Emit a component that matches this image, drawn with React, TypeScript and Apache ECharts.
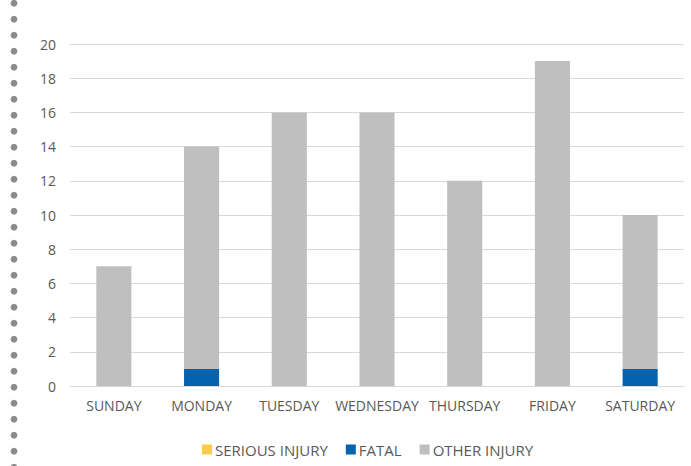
import React, { useEffect, useRef } from "react";
import * as echarts from "echarts";

const categories = ["SUNDAY", "MONDAY", "TUESDAY", "WEDNESDAY", "THURSDAY", "FRIDAY", "SATURDAY"];
const seriousInjury = [0, 0, 0, 0, 0, 0, 0];
const fatal = [0, 1, 0, 0, 0, 0, 1];
const otherInjury = [7, 13, 16, 16, 12, 19, 9];
const seriesNames = ["SERIOUS INJURY", "FATAL", "OTHER INJURY"];

const FONT = "'Open Sans', 'Noto Sans', sans-serif";

export default function App() {
  const ref = useRef<HTMLDivElement>(null);
  useEffect(() => {
    if (!ref.current) return;
    const chart = echarts.init(ref.current, null, { renderer: "svg" });
    const dots: any[] = [];
    for (let k = 0; k < 30; k++) {
      dots.push({
        type: "circle",
        shape: { cx: 14, cy: 3.3 + 16 * k, r: 3.4 },
        style: { fill: "#8c8c8c" },
        silent: true,
      });
    }
    chart.setOption({
      animation: false,
      backgroundColor: "#ffffff",
      textStyle: { fontFamily: FONT },
      grid: { left: 70, right: 7, top: 44, bottom: 80, containLabel: false },
      legend: {
        top: 437,
        left: 197,
        itemWidth: 10,
        itemHeight: 10,
        itemGap: 18,
        icon: "rect",
        textStyle: { color: "#595959", fontSize: 15, fontFamily: FONT, padding: [0, 0, 0, -2] },
        data: seriesNames,
      },
      xAxis: {
        type: "category",
        data: categories,
        axisLine: { lineStyle: { color: "#d9d9d9", width: 1 } },
        axisTick: { show: false },
        axisLabel: { color: "#595959", fontSize: 14, margin: 12, interval: 0, fontFamily: FONT },
      },
      yAxis: {
        type: "value",
        min: 0,
        max: 20,
        interval: 2,
        axisLine: { show: false },
        axisTick: { show: false },
        splitLine: { lineStyle: { color: "#d9d9d9", width: 1 } },
        axisLabel: { color: "#595959", fontSize: 14, margin: 14, fontFamily: FONT },
      },
      series: [
        { name: seriesNames[0], type: "bar", stack: "a", data: seriousInjury, barWidth: "40%", itemStyle: { color: "#ffcc44" } },
        { name: seriesNames[1], type: "bar", stack: "a", data: fatal, barWidth: "40%", itemStyle: { color: "#0563ad" } },
        { name: seriesNames[2], type: "bar", stack: "a", data: otherInjury, barWidth: "40%", itemStyle: { color: "#bfbfbf" } },
      ],
      graphic: dots,
    });
    return () => chart.dispose();
  }, []);
  return <div ref={ref} style={{ position: "fixed", left: 0, top: 0, width: 691, height: 466 }} />;
}
